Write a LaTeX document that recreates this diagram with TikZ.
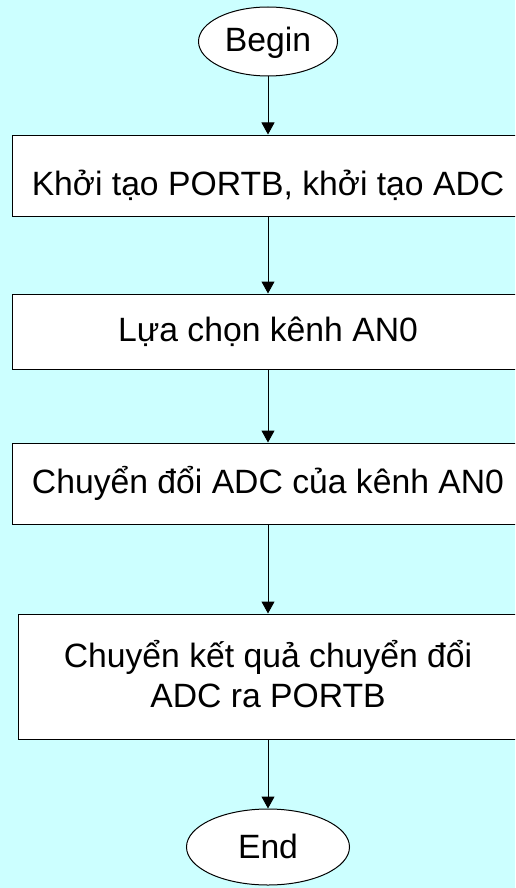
\documentclass[tikz,border=0pt]{standalone}
\usepackage{fontspec}
\setmainfont{Liberation Sans}
\usetikzlibrary{shapes.geometric,arrows.meta}
\definecolor{bgcyan}{RGB}{204,255,255}
\tikzset{
  stepbox/.style={draw=black, line width=1pt, fill=white, rectangle, inner sep=0pt,
    font=\fontsize{33.7}{40}\selectfont, align=center},
  termnode/.style={draw=black, line width=1pt, fill=white, ellipse, inner sep=0pt,
    font=\fontsize{33.7}{40}\selectfont},
  flow/.style={draw=black, line width=1pt, -{Triangle[width=13pt,length=12pt]}},
}
\begin{document}
\begin{tikzpicture}[x=1pt,y=-1pt]
\useasboundingbox (0,0) rectangle (515,888);
\clip (0,0) rectangle (515,888);
\fill[bgcyan] (0,0) rectangle (515,888);

\node[termnode, minimum width=139pt, minimum height=69pt, text height=27pt, text depth=6.6pt] (begin) at (268,41.5) {Begin};

\node[stepbox, minimum width=512pt, minimum height=81pt, text height=45pt, text depth=6pt] (init) at (268,175.5) {Khởi tạo PORTB, khởi tạo ADC};

\node[stepbox, minimum width=512pt, minimum height=75pt, text height=28pt, text depth=7.6pt] (sel) at (268,331.5) {Lựa chọn kênh AN0};

\node[stepbox, minimum width=512pt, minimum height=81pt, text height=27pt, text depth=7.4pt] (conv) at (268,483.5) {Chuyển đổi ADC của kênh AN0};

\node[stepbox, minimum width=500pt, minimum height=125pt, text height=30pt, text depth=49pt] (out) at (268,676.5) {\begin{tabular}[t]{@{}c@{}}Chuyển kết quả chuyển đổi\\ADC ra PORTB\end{tabular}};

\node[termnode, minimum width=163pt, minimum height=76pt, text height=29pt, text depth=6.4pt] (end) at (268,847) {End};

\draw[flow] (begin) -- (init);
\draw[flow] (init) -- (sel);
\draw[flow] (sel) -- (conv);
\draw[flow] (conv) -- (out);
\draw[flow] (out) -- (end);
\end{tikzpicture}
\end{document}
